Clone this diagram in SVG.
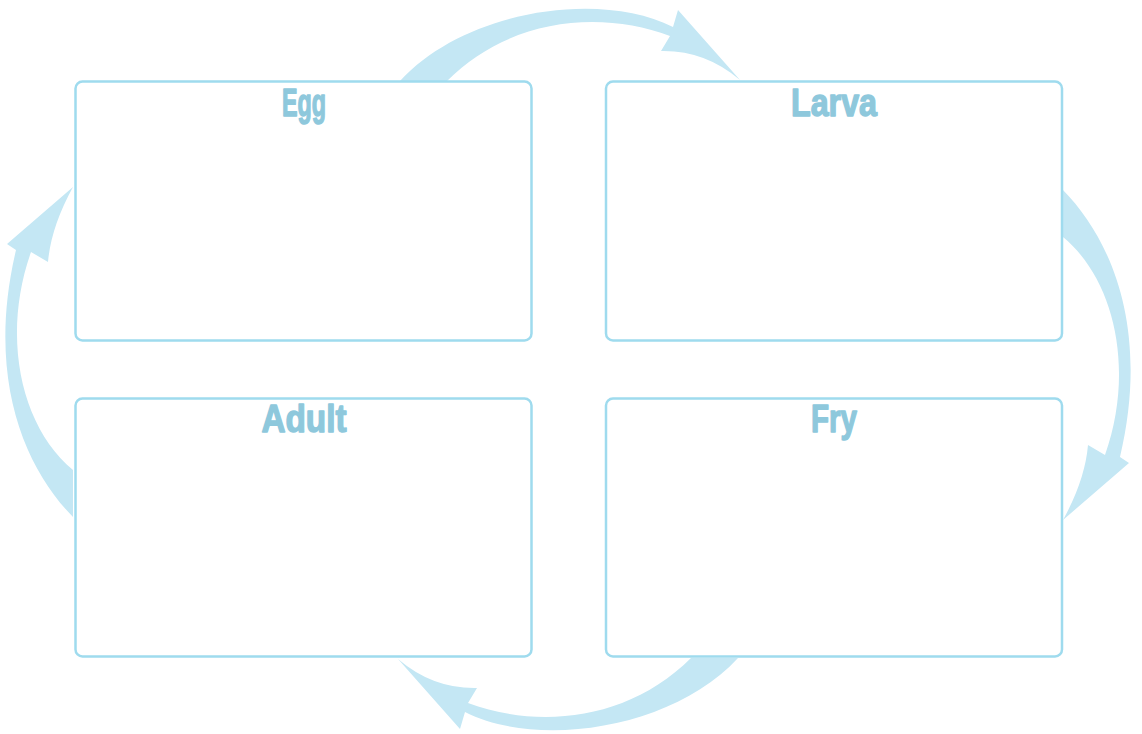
<svg xmlns="http://www.w3.org/2000/svg" width="1142" height="734" viewBox="0 0 1142 734">
  <style>
    .arrow { fill: #c4e7f4; }
    .box { fill: #ffffff; stroke: #9fdbee; stroke-width: 2.5; }
    .label { font-family: "Liberation Sans", "DejaVu Sans", sans-serif; font-weight: bold; font-size: 38px; fill: #8ec8dc; stroke: #8ec8dc; stroke-width: 1.4; stroke-linejoin: round; text-anchor: middle; }
  </style>
  <defs>
    <!-- curved tapered arrow over the top, from Egg to Larva -->
    <path id="arcTop" d="M400,81 C465,10 600,-10 673,27 L678,10 L740,80 Q705,50 661,51 L670,36 C600,10 510,18 447,81 Z"/>
    <!-- curved tapered arrow down the right side, from Larva to Fry -->
    <path id="arcSide" d="M1063,190 C1112,240 1150,330 1120,457 L1129,463 L1063,520 Q1085,480 1088,445 L1105,455 C1135,370 1115,280 1063,237 Z"/>
  </defs>
  <g id="connectors">
    <use href="#arcTop" class="arrow"/>
    <use href="#arcSide" class="arrow"/>
    <use href="#arcTop" class="arrow" transform="rotate(180 569 369.5)"/>
    <use href="#arcSide" class="arrow" transform="rotate(180 568 353.5)"/>
  </g>
  <g id="egg">
    <rect class="box" x="75.5" y="81.5" width="456" height="259" rx="7"/>
    <text class="label" x="304" y="116" textLength="44" lengthAdjust="spacingAndGlyphs">Egg</text>
  </g>
  <g id="larva">
    <rect class="box" x="606" y="81.5" width="456" height="259" rx="7"/>
    <text class="label" x="834" y="116" textLength="86" lengthAdjust="spacingAndGlyphs">Larva</text>
  </g>
  <g id="adult">
    <rect class="box" x="75.5" y="398.5" width="456" height="258" rx="7"/>
    <text class="label" x="304" y="432" textLength="85" lengthAdjust="spacingAndGlyphs">Adult</text>
  </g>
  <g id="fry">
    <rect class="box" x="606" y="398.5" width="456" height="258" rx="7"/>
    <text class="label" x="834" y="432" textLength="46" lengthAdjust="spacingAndGlyphs">Fry</text>
  </g>
</svg>
